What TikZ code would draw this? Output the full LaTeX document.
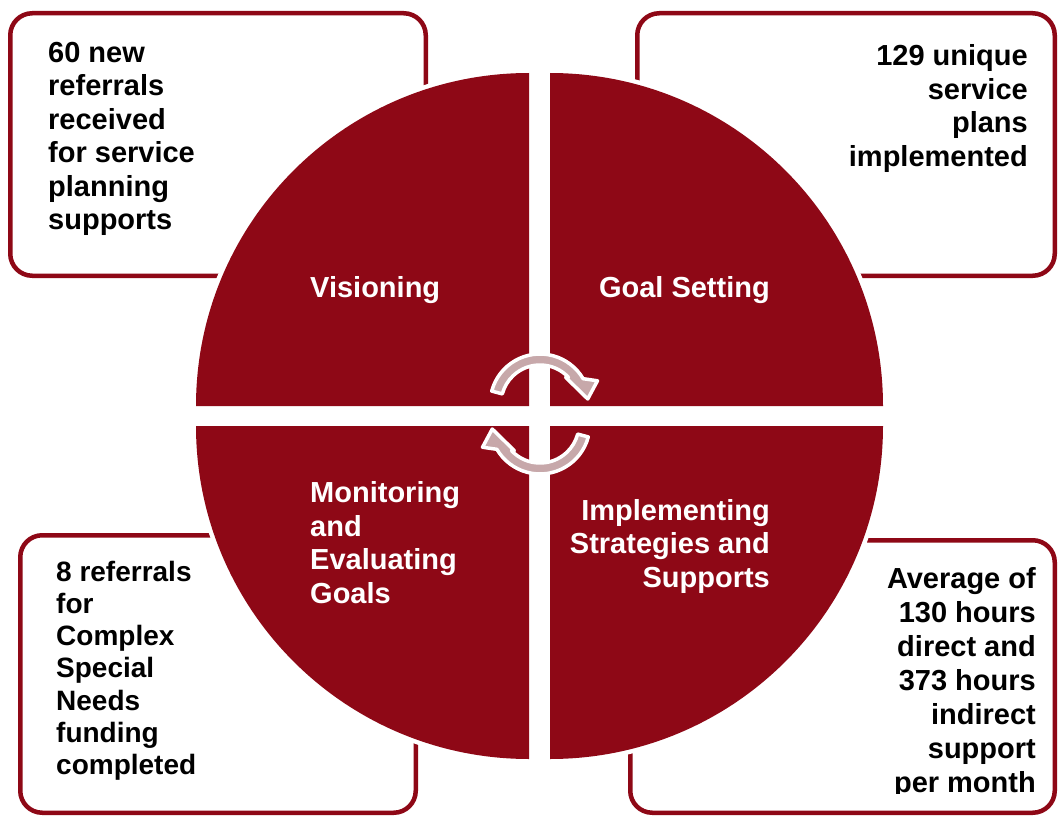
\documentclass[tikz,border=0pt]{standalone}
\usepackage{fontspec}
\setmainfont{Liberation Sans}
\definecolor{dkred}{RGB}{142,8,22}
\definecolor{arrowcol}{RGB}{199,168,170}
\begin{document}
\begin{tikzpicture}[x=1pt,y=-1pt,
  box/.style={draw=dkred, line width=4.5pt, rounded corners=22pt, fill=white, inner sep=0pt},
  boxtext/.style={text=black, inner sep=0pt, font=\fontsize{29}{33.5}\selectfont\bfseries},
  quadtext/.style={text=white, inner sep=0pt, font=\fontsize{29}{33.4}\selectfont\bfseries},
  quad/.style={fill=dkred},
  halo/.style={draw=white, line width=9pt},
  cyclearrow/.style={fill=arrowcol, draw=white, line width=3.5pt, line join=round}]
\fill[white] (0,0) rectangle (1058,816);
\useasboundingbox (0,0) rectangle (1058,816);
% boxes
\node[box, minimum width=415.5pt, minimum height=262.5pt] (tlbox) at (218,144.5) {};
\node[box, minimum width=417.5pt, minimum height=262.5pt] (trbox) at (846,144.5) {};
\node[box, minimum width=395.5pt, minimum height=277.5pt] (blbox) at (218,674) {};
\node[box, minimum width=424.5pt, minimum height=272.5pt] (brbox) at (842.5,676.5) {};
% box texts (anchor = baseline of the last line)
\node[boxtext, anchor=base west, align=left] (tltext) at (48,229.5) {60 new\\referrals\\received\\for service\\planning\\supports};
\node[boxtext, anchor=base east, align=right] (trtext) at (1028,166) {129 unique\\service\\plans\\implemented};
\node[boxtext, anchor=base west, align=left, font=\fontsize{28}{32.2}\selectfont\bfseries] (bltext) at (56,774.5) {8 referrals\\for\\Complex\\Special\\Needs\\funding\\completed};
\begin{scope}
\clip (620,545) rectangle (1058,793);
\node[boxtext, anchor=base east, align=right, font=\fontsize{29}{34}\selectfont\bfseries] (brtext) at (1036,792) {Average of\\130 hours\\direct and\\373 hours\\indirect\\support\\per month};
\end{scope}
% white halo round the quadrants
\draw[halo] (196,406) arc[start angle=180, end angle=270, radius=333];
\draw[halo] (550,73) arc[start angle=270, end angle=360, radius=333];
\draw[halo] (883,426) arc[start angle=0, end angle=90, radius=333];
\draw[halo] (529,759) arc[start angle=90, end angle=180, radius=333];
% quadrants
\fill[quad] (529,406) -- (196,406) arc[start angle=180, end angle=270, radius=333] -- cycle;
\fill[quad] (550,406) -- (550,73) arc[start angle=270, end angle=360, radius=333] -- cycle;
\fill[quad] (550,426) -- (883,426) arc[start angle=0, end angle=90, radius=333] -- cycle;
\fill[quad] (529,426) -- (529,759) arc[start angle=90, end angle=180, radius=333] -- cycle;
% quadrant labels
\node[quadtext, anchor=base west] (vis) at (310,297) {Visioning};
\node[quadtext, anchor=base east] (goal) at (770,297) {Goal Setting};
\node[quadtext, anchor=base west, align=left] (mon) at (310,603) {Monitoring\\and\\Evaluating\\Goals};
\node[quadtext, anchor=base east, align=right] (impl) at (770,587) {Implementing\\Strategies and\\Supports};
% cycle arrows
\begin{scope}[shift={(540,404)}, yscale=-1]
\draw[cyclearrow] (165:50) arc[start angle=165, end angle=30.4, radius=50] -- (22:62) -- (6:48) -- (46:37) -- (43.2:39) arc[start angle=43.2, end angle=165, radius=39] -- cycle;
\end{scope}
\begin{scope}[shift={(540,424)}, yscale=-1, rotate=180]
\draw[cyclearrow] (165:50) arc[start angle=165, end angle=30.4, radius=50] -- (22:62) -- (6:48) -- (46:37) -- (43.2:39) arc[start angle=43.2, end angle=165, radius=39] -- cycle;
\end{scope}
\end{tikzpicture}
\end{document}
